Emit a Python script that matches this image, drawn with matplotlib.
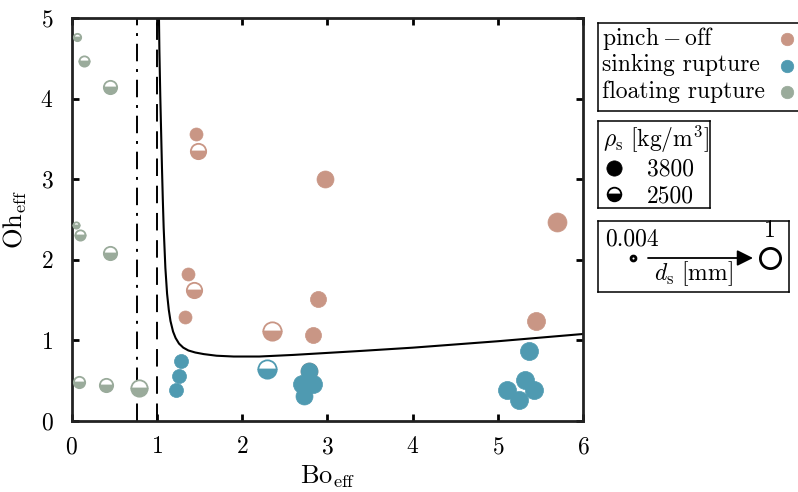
import matplotlib
matplotlib.use("Agg")
import matplotlib.pyplot as plt
import numpy as np

plt.rcParams['font.family'] = 'cmr10'
plt.rcParams['mathtext.fontset'] = 'cm'
plt.rcParams['axes.formatter.use_mathtext'] = True

# ---- data ----
# pinch-off
pinch_bo = [2.78, 1.46, 2.97, 1.36, 1.33, 2.89, 2.83, 5.69, 5.44, 1.48, 1.44, 2.35]
pinch_oh = [0.62, 3.56, 3.00, 1.82, 1.29, 1.51, 1.07, 2.47, 1.24, 3.35, 1.63, 1.12]
pinch_rho = [3800, 3800, 3800, 3800, 3800, 3800, 3800, 3800, 3800, 2500, 2500, 2500]
pinch_d = [0.126, 0.032, 0.126, 0.032, 0.032, 0.09, 0.09, 0.25, 0.18, 0.126, 0.126, 0.355]

# sinking rupture
sink_bo = [1.28, 1.26, 1.23, 2.78, 2.70, 2.83, 2.72, 5.36, 5.31, 5.10, 5.42, 5.24, 2.29]
sink_oh = [0.74, 0.56, 0.38, 0.62, 0.46, 0.46, 0.31, 0.87, 0.51, 0.38, 0.38, 0.26, 0.65]
sink_rho = [3800] * 12 + [2500]
sink_d = [0.045, 0.045, 0.045, 0.126, 0.18, 0.18, 0.126, 0.18, 0.18, 0.18, 0.18, 0.18, 0.355]

# floating rupture
float_bo = [0.06, 0.15, 0.45, 0.05, 0.10, 0.45, 0.09, 0.41, 0.79]
float_oh = [4.76, 4.47, 4.14, 2.43, 2.31, 2.09, 0.49, 0.45, 0.41]
float_rho = [2500] * 9
float_d = [0.008, 0.022, 0.063, 0.0056, 0.022, 0.063, 0.032, 0.063, 0.18]

# regime boundary curve
curve_bo = [1.025, 1.03, 1.04, 1.05, 1.06, 1.07, 1.08, 1.10, 1.12, 1.14, 1.16, 1.19,
            1.22, 1.26, 1.31, 1.37, 1.45, 1.55, 1.70, 1.90, 2.20, 2.60, 3.40, 4.00,
            5.00, 6.00]
curve_oh = [5.00, 4.60, 4.05, 3.60, 3.15, 2.75, 2.40, 1.90, 1.58, 1.38, 1.24, 1.11,
            1.03, 0.96, 0.91, 0.875, 0.85, 0.83, 0.81, 0.80, 0.80, 0.82, 0.87, 0.91,
            0.99, 1.08]

bo_dashdot = 0.77
bo_dashed = 1.0

colors = {'pinch': '#C99685', 'sink': '#4F9AB1', 'float': '#9AAB9B'}
labels = [r'$\mathrm{pinch-off}$', 'sinking rupture', 'floating rupture']
rho_labels = ['3800', '2500']

FS = 17


def marker_px(d):
    # log mapping of d_s [mm] to marker diameter, 0.004 mm -> 7 px, 1 mm -> 23 px
    lo = np.log10(0.004)
    return 7 + 16 * (np.log10(d) - lo) / (0 - lo)


def dot(a, x, y, ms, c, half=False, z=3):
    if half:
        a.plot(x, y, 'o', ms=ms - 1.2, fillstyle='bottom', markerfacecolor=c,
               markerfacecoloralt='white', mec=c, mew=1.3, zorder=z)
    else:
        a.plot(x, y, 'o', ms=ms, color=c, mec=c, mew=0.5, zorder=z)


fig = plt.figure(figsize=(7.98, 4.92), dpi=100)
ax = fig.add_axes([0.0896, 0.1443, 0.6416, 0.8191])

ax.axvline(bo_dashdot, color='k', lw=1.4, linestyle=(0, (9, 4, 1.5, 4)), zorder=1)
ax.axvline(bo_dashed, color='k', lw=1.4, linestyle=(0, (9, 5)), zorder=1)
ax.plot(curve_bo, curve_oh, color='k', lw=1.5, zorder=1)

for bo, oh, rho, dd, key in [(pinch_bo, pinch_oh, pinch_rho, pinch_d, 'pinch'),
                             (sink_bo, sink_oh, sink_rho, sink_d, 'sink'),
                             (float_bo, float_oh, float_rho, float_d, 'float')]:
    for x, y, r, d in zip(bo, oh, rho, dd):
        dot(ax, x, y, marker_px(d) * 0.72, colors[key], half=(r == 2500))

ax.set_xlim(0, 6)
ax.set_ylim(0, 5)
ax.set_xticks(range(7))
ax.set_yticks(range(6))
ax.tick_params(direction='in', length=5, width=2, top=True, right=True,
               labelsize=FS, pad=11)
ax.tick_params(axis='y', pad=13)
for s in ax.spines.values():
    s.set_linewidth(2)
    s.set_color('#222222')
ax.set_xlabel(r'$\mathrm{Bo}_{\mathrm{eff}}$', fontsize=19, labelpad=4)
ax.set_ylabel(r'$\mathrm{Oh}_{\mathrm{eff}}$', fontsize=19, labelpad=8)


def box(x0, y0, w, h):
    # small frame axes in pixel units (y downwards)
    b = fig.add_axes([x0 / 798, 1 - (y0 + h) / 492, w / 798, h / 492])
    b.set_xlim(0, w)
    b.set_ylim(h, 0)
    b.set_xticks([])
    b.set_yticks([])
    for s in b.spines.values():
        s.set_linewidth(1.1)
    return b


# legend 1: regimes
b1 = box(598, 23, 230, 88)
for i, (lab, key) in enumerate(zip(labels, ['pinch', 'sink', 'float'])):
    b1.text(4, 22 + 26.5 * i, lab, fontsize=FS, ha='left', va='baseline')
    dot(b1, 189, 16 + 26.5 * i, 9, colors[key])

# legend 2: density
b2 = box(598, 121, 112, 87)
b2.text(5, 26, r'$\rho_\mathrm{s}\ [\mathrm{kg/m}^3]$', fontsize=FS, ha='left', va='baseline')
for i, lab in enumerate(rho_labels):
    b2.text(49, 54 + 27 * i, lab, fontsize=FS, ha='left', va='baseline')
    dot(b2, 16, 47 + 26 * i, 11, 'k', half=(lab == '2500'))

# legend 3: size scale
b3 = box(598, 221, 191, 71)
b3.plot(34.7, 37, 'o', ms=marker_px(0.004) * 0.72 - 1.5, mfc='white', mec='k', mew=2)
b3.plot(172, 37, 'o', ms=marker_px(1.0) * 0.72 - 2, mfc='white', mec='k', mew=2)
b3.annotate('', xy=(155, 37), xytext=(50, 37),
            arrowprops=dict(arrowstyle='-|>', color='k', lw=1.3, mutation_scale=24,
                            shrinkA=0, shrinkB=0))
b3.text(7, 24, '0.004', fontsize=FS, ha='left', va='baseline')
b3.text(172, 16, '1', fontsize=FS, ha='center', va='baseline')
b3.text(95, 59, r'$d_\mathrm{s}\ [\mathrm{mm}]$', fontsize=FS, ha='center', va='baseline')

fig.savefig('out.png', dpi=100)
